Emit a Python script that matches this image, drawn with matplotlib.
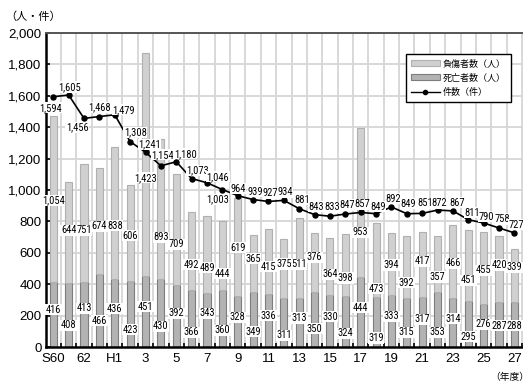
import matplotlib
matplotlib.use("Agg")
import matplotlib.pyplot as plt
from matplotlib.patches import Patch
from matplotlib.lines import Line2D
from matplotlib import font_manager

# ---- data ----
years = ["S60", "61", "62", "63", "H1", "2", "3", "4", "5", "6", "7", "8", "9", "10",
         "11", "12", "13", "14", "15", "16", "17", "18", "19", "20", "21", "22", "23",
         "24", "25", "26", "27"]
deaths = [416, 408, 413, 466, 436, 423, 451, 430, 392, 366, 343, 360, 328, 349, 336,
          311, 313, 350, 330, 324, 444, 319, 333, 315, 317, 353, 314, 295, 276, 287, 288]
injured = [1054, 644, 751, 674, 838, 606, 1423, 893, 709, 492, 489, 444, 619, 365, 415,
           375, 511, 376, 364, 398, 953, 473, 394, 392, 417, 357, 466, 451, 455, 420, 339]
cases = [1594, 1605, 1456, 1468, 1479, 1308, 1241, 1154, 1180, 1073, 1046, 1003, 964, 939,
         927, 934, 881, 843, 833, 847, 857, 849, 892, 849, 851, 872, 867, 811, 790, 758, 727]
tick_labels = ["S60", "62", "H1", "3", "5", "7", "9", "11", "13", "15", "17", "19", "21",
               "23", "25", "27"]

# ---- label placement (styling) ----
# vertical position of the injured label inside its segment (fraction of segment)
inj_frac = [0.49, 0.52, 0.44, 0.45, 0.40, 0.47, 0.44, 0.30, 0.37, 0.32, 0.33, 0.24, 0.49,
            0.58, 0.42, 0.58, 0.42, 0.59, 0.37, 0.29, 0.30, 0.11, 0.48, 0.24, 0.55, 0.26,
            0.47, 0.29, 0.47, 0.56, 0.65]
# vertical position of the deaths label inside its segment
dth_frac = [0.57, 0.34, 0.60, 0.36, 0.56, 0.26, 0.57, 0.31, 0.55, 0.26, 0.63, 0.30, 0.58,
            0.28, 0.59, 0.24, 0.59, 0.33, 0.58, 0.27, 0.56, 0.18, 0.59, 0.30, 0.56, 0.27,
            0.57, 0.22, 0.53, 0.47, 0.47]
# pixel offsets of the count labels relative to their markers
case_off = [(-3, -11), (1, 8), (-7, -9), (0, 9), (9, 5), (5, 9), (4, 8), (2, 11), (9, 8),
            (6, 8), (11, 6), (-5, -10), (0, 7), (2, 8), (2, 8), (1, 8), (3, 9), (2, 8),
            (2, 9), (2, 9), (2, 8), (2, 7), (2, 8), (1, 10), (3, 10), (2, 7), (4, 8),
            (4, 7), (3, 6), (3, 9), (2, 8)]

W, H, DPI = 523, 381, 100
fig = plt.figure(figsize=(W / DPI, H / DPI), dpi=DPI)

names = {f.name for f in font_manager.fontManager.ttflist}
num_font = "Liberation Sans"
lbl_font = next((n for n in ["Liberation Sans Narrow", "Arial Narrow", "Roboto Condensed",
                             "Archivo Narrow", "Barlow Semi Condensed"] if n in names),
                "Liberation Sans")
cjk = ["Noto Sans CJK JP", "DejaVu Sans"]

px_per_unit = 15.37
left_px, bottom_px, top_px = 45.6, 347.0, 33.0
xmin, xmax = -0.5, 31.5
ax = fig.add_axes([left_px / W, 1 - bottom_px / H,
                   (xmax - xmin) * px_per_unit / W, (bottom_px - top_px) / H])

x = list(range(len(years)))
bw = 0.46

# grid
for i in range(len(years)):
    ax.axvline(i + 0.5, color="#d6d6d6", lw=1.3, zorder=0)
for v in range(200, 2001, 200):
    ax.axhline(v, color="#d6d6d6", lw=1.3, zorder=0)

ax.bar(x, deaths, width=bw, color="#b3b3b3", edgecolor="#7d7d7d", lw=0.8, zorder=2)
ax.bar(x, injured, width=bw, bottom=deaths, color="#d0d0d0", edgecolor="#b0b0b0",
       lw=0.8, zorder=2)
ax.plot(x, cases, color="black", lw=1.2, marker="o", ms=3.6, zorder=4)

bbox = dict(boxstyle="square,pad=0.05", fc="white", ec="none")
fs_lbl = 7.6
for i in x:
    ax.text(i, deaths[i] * dth_frac[i], f"{deaths[i]:,}", ha="center", va="center",
            fontsize=fs_lbl, family=lbl_font, bbox=bbox, zorder=5)
    ax.text(i, deaths[i] + injured[i] * inj_frac[i], f"{injured[i]:,}", ha="center",
            va="center", fontsize=fs_lbl, family=lbl_font, bbox=bbox, zorder=5)
    dx, dy = case_off[i]
    ax.annotate(f"{cases[i]:,}", (i, cases[i]), xytext=(dx, dy), textcoords="offset pixels",
                ha="center", va="center", fontsize=fs_lbl, family=lbl_font, bbox=bbox,
                zorder=6)

ax.set_xlim(xmin, xmax)
ax.set_ylim(0, 2000)
ax.set_yticks(range(0, 2001, 200))
ax.set_yticklabels([f"{v:,}" for v in range(0, 2001, 200)], family=num_font, fontsize=9.5)
ax.set_xticks(range(0, len(years), 2))
ax.set_xticklabels(tick_labels, family=num_font, fontsize=9.5)
ax.set_xticks([i + 0.5 for i in range(len(years))], minor=True)
ax.tick_params(axis="x", which="major", length=0, pad=4)
ax.tick_params(axis="x", which="minor", direction="in", length=3, width=1.2, color="black")
ax.tick_params(axis="y", direction="in", length=3, width=1.2, pad=3)

for s in ("left", "bottom"):
    ax.spines[s].set_linewidth(1.8)
    ax.spines[s].set_color("black")
ax.spines["top"].set_linewidth(1.4)
ax.spines["top"].set_color("#555555")
ax.spines["right"].set_visible(False)

fig.text(5 / W, 1 - 17 / H, "（人・件）", family=cjk, fontsize=8, ha="left", va="center")
fig.text(490 / W, 1 - 377 / H, "（年度）", family=cjk, fontsize=7, ha="left", va="center")

handles = [Patch(fc="#d0d0d0", ec="#b0b0b0", lw=0.8),
           Patch(fc="#b3b3b3", ec="#7d7d7d", lw=0.8),
           Line2D([], [], color="black", lw=1.0, marker="o", ms=3)]
leg = fig.legend(handles, ["負傷者数（人）", "死亡者数（人）", "件数（件）"],
                 loc="upper right", bbox_to_anchor=(511 / W, 1 - 54 / H),
                 bbox_transform=fig.transFigure, borderaxespad=0, frameon=True,
                 fancybox=False, edgecolor="black", framealpha=1,
                 prop=font_manager.FontProperties(family=cjk, size=6.5),
                 handlelength=3.2, handleheight=0.6, handletextpad=0.3,
                 labelspacing=0.55, borderpad=0.6)
leg.get_frame().set_linewidth(1.0)

fig.savefig("out.png", dpi=DPI)
